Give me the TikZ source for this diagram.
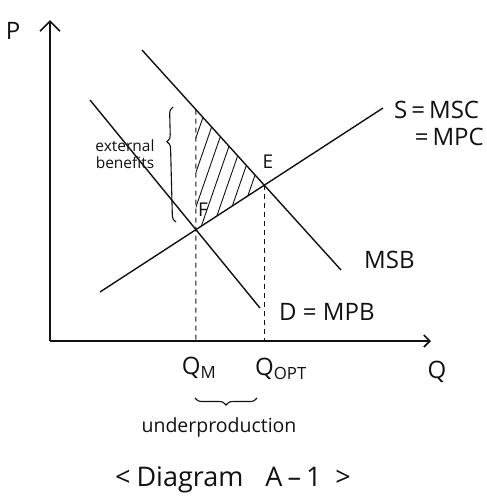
\documentclass[tikz,border=0pt]{standalone}
\usepackage{fontspec}
\setmainfont{Open Sans}
\usetikzlibrary{arrows.meta,positioning,calc,decorations.pathreplacing}
\definecolor{InkBlack}{HTML}{111111}
\tikzset{
  curveline/.style={line width=1.4pt,draw=InkBlack},
  axisline/.style={line width=1.7pt,draw=InkBlack},
  guideline/.style={line width=1pt,draw=InkBlack,dash pattern=on 5pt off 4pt},
  hatchline/.style={line width=0.9pt,draw=InkBlack},
  bigtag/.style={font=\fontsize{24}{28}\selectfont,inner sep=0pt,text=InkBlack},
  smalltag/.style={font=\fontsize{15.5}{17}\selectfont,inner sep=0pt,text=InkBlack,align=center},
  bracemark/.style={decorate,decoration={brace,amplitude=7pt},line width=1.1pt,draw=InkBlack}
}

\begin{document}
\begin{tikzpicture}[x=1pt,y=1pt]
  \useasboundingbox (0,0) rectangle (487,-501);
  % axes
  \coordinate (O) at (50,-341);
  \coordinate (Ptip) at (50,-20);
  \coordinate (Qtip) at (431,-341);
  \draw[axisline,-{Straight Barb[length=10pt,width=20pt]}] (O) -- (Ptip);
  \draw[axisline,-{Straight Barb[length=6pt,width=12pt]}] (O) -- (Qtip);

  % curve ends
  \coordinate (msbA) at (142,-50);
  \coordinate (msbB) at (341,-270);
  \coordinate (mpbA) at (90,-100);
  \coordinate (mpbB) at (260,-308);
  \coordinate (mscA) at (100,-292);
  \coordinate (mscB) at (383,-108);
  \coordinate (F) at (intersection of mpbA--mpbB and mscA--mscB);
  \coordinate (E) at (intersection of msbA--msbB and mscA--mscB);
  \coordinate (QM) at (F |- O);
  \coordinate (QO) at (E |- O);
  \coordinate (Ftop) at (intersection of F--QM and msbA--msbB);

  % welfare loss
  \begin{scope}
    \clip (Ftop) -- (F) -- (E) -- cycle;
    \foreach \k in {-5,...,5}
      \draw[hatchline] ($(F)+(\k*12,-12)$) -- ++(45,130);
  \end{scope}

  \draw[curveline] (msbA) -- (msbB);
  \draw[curveline] (mpbA) -- (mpbB);
  \draw[curveline] (mscA) -- (mscB);
  \draw[guideline] (Ftop) -- (QM);
  \draw[guideline] (E) -- (QO);

  % braces
  \coordinate (extB) at (176,-222);
  \coordinate (extT) at (173,-107);
  \draw[bracemark,decoration={aspect=0.7}] (extB) -- (extT);
  \coordinate (underL) at (195,-398);
  \coordinate (underR) at (257,-398);
  \draw[bracemark,decoration={aspect=0.5}] (underR) -- (underL);

  % labels
  \node[bigtag] (Plbl) at (13,-31) {P};
  \node[bigtag] (Qlbl) at (437,-372) {Q};
  \node[bigtag,font=\fontsize{19}{21}\selectfont] (Elbl) at (268,-162) {E};
  \node[bigtag,font=\fontsize{19}{21}\selectfont] (Flbl) at (203,-210) {F};
  \node[bigtag,anchor=west] (msclbl) at (394,-110) {S\,=\,MSC};
  \node[bigtag,anchor=east] (mpclbl) at (484,-137) {=\,MPC};
  \node[bigtag,anchor=west] (msblbl) at (364,-260) {MSB};
  \node[bigtag,anchor=west] (mpblbl) at (279,-312) {D = MPB};
  \node[bigtag] (qmlbl) at (199,-368) {Q\textsubscript{M}};
  \node[bigtag] (qoptlbl) at (281,-369) {Q\textsubscript{OPT}};
  \node[smalltag] (extlbl) at (125,-154) {external\\benefits};
  \node[smalltag,font=\fontsize{19.5}{21}\selectfont] (underlbl) at (219,-427) {underproduction};
  \node[bigtag,font=\fontsize{27}{30}\selectfont] (titlelbl) at (233,-480) {<\hspace{6pt}Diagram\hspace{22pt}A\hspace{5pt}–\hspace{5pt}1\hspace{14pt}>};
\end{tikzpicture}
\end{document}
